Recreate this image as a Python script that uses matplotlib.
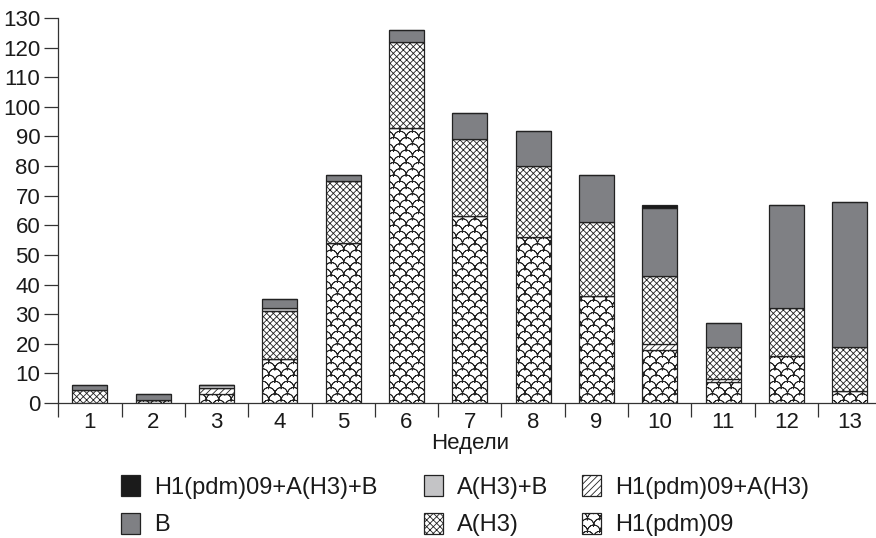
import numpy as np
import matplotlib
matplotlib.use("Agg")
import matplotlib.pyplot as plt
import matplotlib.hatch as mhatch
from matplotlib.path import Path

# ---------------- data ----------------
weeks = [1, 2, 3, 4, 5, 6, 7, 8, 9, 10, 11, 12, 13]
week_labels = [str(w) for w in weeks]
h1 = [0, 1, 3, 15, 54, 93, 63, 56, 36, 18, 7, 16, 4]
h1_ah3 = [0, 0, 2, 0, 0, 0, 0, 0, 0, 2, 1, 0, 0]
ah3 = [4.5, 0, 0, 16, 21, 29, 26, 24, 25, 23, 11, 16, 15]
ah3_b = [0, 0, 1, 1, 0, 0, 0, 0, 0, 0, 0, 0, 0]
b = [1.5, 2, 0, 3, 2, 4, 9, 12, 16, 23, 8, 35, 49]
h1_ah3_b = [0, 0, 0, 0, 0, 0, 0, 0, 0, 1, 0, 0, 0]

series_labels = ["H1(pdm)09", "H1(pdm)09+A(H3)", "A(H3)", "A(H3)+B", "B", "H1(pdm)09+A(H3)+B"]
yticks = list(range(0, 131, 10))
xlabel = "Недели"


# ------------- custom fish-scale hatch (replaces 'O') -------------
class ScaleHatch(mhatch.HatchPatternBase):
    ncols = 8
    nrows = 16
    npts = 12

    def __init__(self, hatch, density):
        self.on = hatch.count('O') > 0
        if self.on:
            self.num_vertices = (self.nrows + 3) * (self.ncols + 3) * self.npts * 2
        else:
            self.num_vertices = 0

    def set_vertices_and_codes(self, vertices, codes):
        w = 1.0 / self.ncols
        h = 1.0 / self.nrows
        r = w / 2.0
        t = np.linspace(0, np.pi, self.npts)
        arc = np.column_stack([r * np.cos(t), r * np.sin(t)])
        arc2 = np.concatenate([arc, arc[::-1]])
        n = len(arc2)
        cur = 0
        for j in range(-2, self.nrows + 1):
            off = 0.5 * w if (j % 2) else 0.0
            for i in range(-1, self.ncols + 2):
                vertices[cur:cur + n] = arc2 + np.array([i * w + off, j * h])
                codes[cur] = Path.MOVETO
                codes[cur + 1:cur + n] = Path.LINETO
                cur += n


mhatch._hatch_types = [ScaleHatch if c is mhatch.LargeCircles else c
                       for c in mhatch._hatch_types]

# ---------------- style ----------------
plt.rcParams['font.family'] = ['Liberation Sans', 'DejaVu Sans']
plt.rcParams['hatch.linewidth'] = 0.6
plt.rcParams['hatch.color'] = '#111111'
txt = '#1a1a1a'

fig = plt.figure(figsize=(8.76, 5.38), dpi=100)
ax = fig.add_axes([58.3 / 876, 135 / 538, 823 / 876, 385 / 538])

styles = [
    dict(facecolor='white', hatch='O'),
    dict(facecolor='white', hatch='/////'),
    dict(facecolor='white', hatch='xxxxx'),
    dict(facecolor='#c4c4c6', hatch=None),
    dict(facecolor='#7f8084', hatch=None),
    dict(facecolor='#1b1b1b', hatch=None),
]
data = [h1, h1_ah3, ah3, ah3_b, b, h1_ah3_b]
bottom = np.zeros(len(weeks))
handles = []
for vals, lab, st in zip(data, series_labels, styles):
    bars = ax.bar(weeks, vals, bottom=bottom, width=0.553, edgecolor='#222222',
                  linewidth=0.9, label=lab, **st)
    handles.append(bars)
    bottom = bottom + np.array(vals, dtype=float)

ax.set_xlim(0.5, 13.5)
ax.set_ylim(0, 130)
ax.set_yticks(yticks)
ax.set_xticks(weeks, week_labels)
ax.set_xticks(np.arange(0.5, 13.6, 1.0), minor=True)
ax.tick_params(axis='x', which='major', length=0, pad=6.5, labelsize=16, colors=txt)
ax.tick_params(axis='x', which='minor', length=10, width=0.9, color='#333333')
ax.tick_params(axis='y', length=10, width=0.9, pad=3, labelsize=16, colors=txt, color='#333333')
for s in ['top', 'right']:
    ax.spines[s].set_visible(False)
for s in ['left', 'bottom']:
    ax.spines[s].set_linewidth(0.9)
    ax.spines[s].set_color('#333333')
ax.set_xlabel(xlabel, fontsize=16, color=txt, labelpad=0)

# legend: three columns, each a small legend
hmap = dict(zip(series_labels, handles))
cols = [
    (["H1(pdm)09+A(H3)+B", "B"], 121),
    (["A(H3)+B", "A(H3)"], 424),
    (["H1(pdm)09+A(H3)", "H1(pdm)09"], 582),
]
for labs, xpx in cols:
    fig.legend([hmap[l] for l in labs], labs, loc='upper left',
               bbox_to_anchor=(xpx / 876, 1 - 475 / 538), borderpad=0,
               borderaxespad=0, frameon=False, fontsize=17,
               handlelength=0.8, handleheight=1.0, handletextpad=0.6,
               labelspacing=0.6, labelcolor=txt)

fig.savefig('out.png', dpi=100)
